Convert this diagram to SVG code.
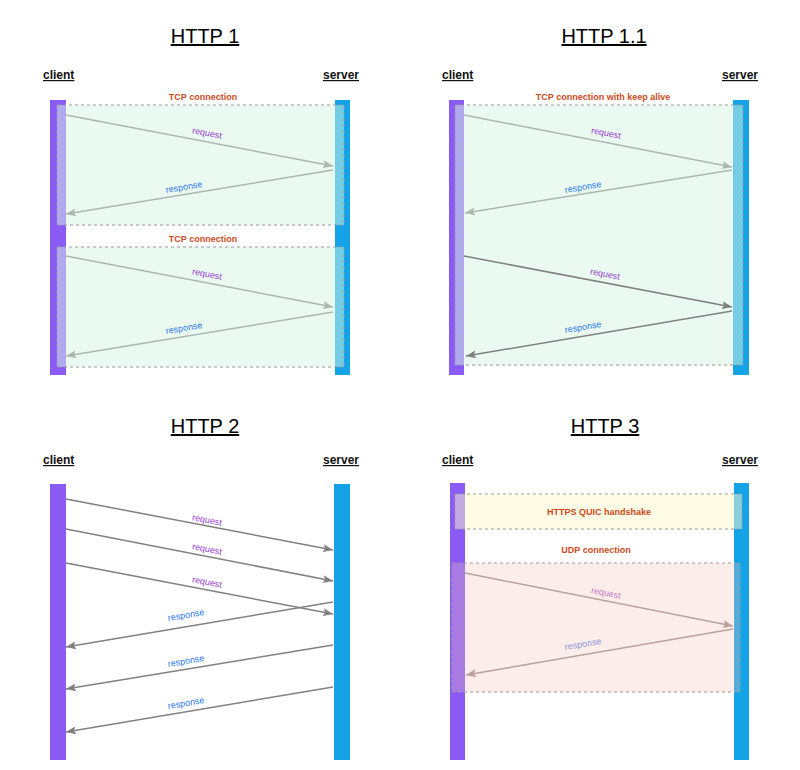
<svg xmlns="http://www.w3.org/2000/svg" width="800" height="770" viewBox="0 0 800 770">
<defs>
<style>
text{font-family:"Liberation Sans",Arial,Helvetica,sans-serif}
.title{font-size:20px;text-anchor:middle;text-decoration:underline;fill:#000}
.actor{font-size:12px;font-weight:bold;text-decoration:underline;fill:#111}
.conn{font-size:9px;font-weight:bold;text-anchor:middle;fill:#cc4a1c}
.req{font-size:9px;text-anchor:middle;fill:#9a3bd4}
.resp{font-size:9px;text-anchor:middle;fill:#2f7cf0}
.req3{font-size:9px;text-anchor:middle;fill:#b25ccc}
.resp3{font-size:9px;text-anchor:middle;fill:#5a8de8}
.client{fill:#8a5cf5}
.server{fill:#13a3e6}
.tcp{fill:#d5f5e3;fill-opacity:0.5;stroke:#9a9a9a;stroke-dasharray:3 3;stroke-width:1}
.quic{fill:#fffacd;fill-opacity:0.5;stroke:#9a9a9a;stroke-dasharray:3 3;stroke-width:1}
.udp{fill:#f5c0b9;fill-opacity:0.3;stroke:#9a9a9a;stroke-dasharray:3 3;stroke-width:1}
.al{stroke:#abb8b0;stroke-width:1.5;fill:none;marker-end:url(#hl)}
.ad{stroke:#808080;stroke-width:1.5;fill:none;marker-end:url(#hd)}
.ap{stroke:#a39391;stroke-width:1.5;fill:none;marker-end:url(#hp)}
</style>
<marker id="hl" markerUnits="userSpaceOnUse" viewBox="0 0 10 8" refX="10" refY="4" markerWidth="10" markerHeight="8" orient="auto"><path d="M0,0 L10,4 L0,8 L2,4 Z" fill="#abb8b0"/></marker>
<marker id="hd" markerUnits="userSpaceOnUse" viewBox="0 0 10 8" refX="10" refY="4" markerWidth="10" markerHeight="8" orient="auto"><path d="M0,0 L10,4 L0,8 L2,4 Z" fill="#808080"/></marker>
<marker id="hp" markerUnits="userSpaceOnUse" viewBox="0 0 10 8" refX="10" refY="4" markerWidth="10" markerHeight="8" orient="auto"><path d="M0,0 L10,4 L0,8 L2,4 Z" fill="#a39391"/></marker>
</defs>
<rect width="800" height="770" fill="#fff"/>

<!-- HTTP 1 -->
<g id="http1-title"><text class="title" x="205" y="43">HTTP 1</text></g>
<g id="http1-client"><text class="actor" x="43" y="79">client</text><rect class="client" x="50" y="100" width="16" height="275"/></g>
<g id="http1-server"><text class="actor" x="359" y="79" text-anchor="end">server</text><rect class="server" x="335" y="100" width="15" height="275"/></g>
<g id="http1-tcp1"><rect class="tcp" x="57" y="105" width="287" height="120"/><text class="conn" x="203" y="100">TCP connection</text></g>
<g id="http1-tcp2"><rect class="tcp" x="57" y="247" width="287" height="120"/><text class="conn" x="203" y="242">TCP connection</text></g>

<!-- HTTP 1.1 -->
<g id="http11-title"><text class="title" x="604" y="43">HTTP 1.1</text></g>
<g id="http11-client"><text class="actor" x="442" y="79">client</text><rect class="client" x="449" y="100" width="15" height="275"/></g>
<g id="http11-server"><text class="actor" x="758" y="79" text-anchor="end">server</text><rect class="server" x="733" y="100" width="16" height="275"/></g>
<g id="http11-tcp"><rect class="tcp" x="455" y="105" width="288" height="260"/><text class="conn" x="603" y="100">TCP connection with keep alive</text></g>

<!-- HTTP 2 -->
<g id="http2-title"><text class="title" x="205" y="433">HTTP 2</text></g>
<g id="http2-client"><text class="actor" x="43" y="464">client</text><rect class="client" x="50" y="484" width="16" height="276"/></g>
<g id="http2-server"><text class="actor" x="359" y="464" text-anchor="end">server</text><rect class="server" x="334" y="484" width="16" height="276"/></g>

<!-- HTTP 3 -->
<g id="http3-title"><text class="title" x="605" y="433">HTTP 3</text></g>
<g id="http3-client"><text class="actor" x="442" y="464">client</text><rect class="client" x="450" y="483" width="15" height="277"/></g>
<g id="http3-server"><text class="actor" x="758" y="464" text-anchor="end">server</text><rect class="server" x="734" y="483" width="15" height="277"/></g>
<g id="http3-quic"><rect class="quic" x="455" y="494" width="287" height="35"/><text class="conn" x="599" y="515">HTTPS QUIC handshake</text></g>
<g id="http3-udp-label"><text class="conn" x="596" y="553">UDP connection</text></g>

<g id="connectors">
  <!-- HTTP 1 -->
  <line class="al" x1="66" y1="115" x2="333" y2="166"/>
  <line class="al" x1="333" y1="170" x2="66" y2="214"/>
  <line class="al" x1="66" y1="256" x2="333" y2="307"/>
  <line class="al" x1="333" y1="312" x2="66" y2="356"/>
  <text class="req" transform="translate(207,133) rotate(10.8)" y="3">request</text>
  <text class="resp" transform="translate(184,187) rotate(-9.4)" y="3">response</text>
  <text class="req" transform="translate(207,274) rotate(10.8)" y="3">request</text>
  <text class="resp" transform="translate(184,328) rotate(-9.4)" y="3">response</text>
  <!-- HTTP 1.1 -->
  <line class="al" x1="464" y1="115" x2="732" y2="167"/>
  <line class="al" x1="732" y1="170" x2="465" y2="213"/>
  <line class="ad" x1="464" y1="256" x2="732" y2="307"/>
  <line class="ad" x1="732" y1="311" x2="466" y2="356"/>
  <text class="req" transform="translate(606,133) rotate(10.8)" y="3">request</text>
  <text class="resp" transform="translate(583,187) rotate(-9.2)" y="3">response</text>
  <text class="req" transform="translate(605,274) rotate(10.8)" y="3">request</text>
  <text class="resp" transform="translate(583,327) rotate(-9.6)" y="3">response</text>
  <!-- HTTP 2 -->
  <line class="ad" x1="66" y1="499" x2="333" y2="550"/>
  <line class="ad" x1="66" y1="529" x2="333" y2="581"/>
  <line class="ad" x1="66" y1="563" x2="333" y2="614"/>
  <line class="ad" x1="333" y1="602" x2="66" y2="647"/>
  <line class="ad" x1="333" y1="645" x2="66" y2="689"/>
  <line class="ad" x1="333" y1="687" x2="66" y2="732"/>
  <text class="req" transform="translate(207,520) rotate(10.8)" y="3">request</text>
  <text class="req" transform="translate(207,549) rotate(10.8)" y="3">request</text>
  <text class="req" transform="translate(207,582) rotate(10.8)" y="3">request</text>
  <text class="resp" transform="translate(186,615) rotate(-9.5)" y="3">response</text>
  <text class="resp" transform="translate(186,661) rotate(-9.4)" y="3">response</text>
  <text class="resp" transform="translate(186,703) rotate(-9.5)" y="3">response</text>
  <!-- HTTP 3 -->
  <line class="ap" x1="465" y1="573" x2="733" y2="626"/>
  <line class="ap" x1="733" y1="629" x2="466" y2="675"/>
  <text class="req3" transform="translate(606,593) rotate(11)" y="3">request</text>
  <text class="resp3" transform="translate(583,644) rotate(-9.8)" y="3">response</text>
</g>

<g id="http3-udp"><rect class="udp" x="452" y="563" width="288" height="129"/></g>
</svg>
